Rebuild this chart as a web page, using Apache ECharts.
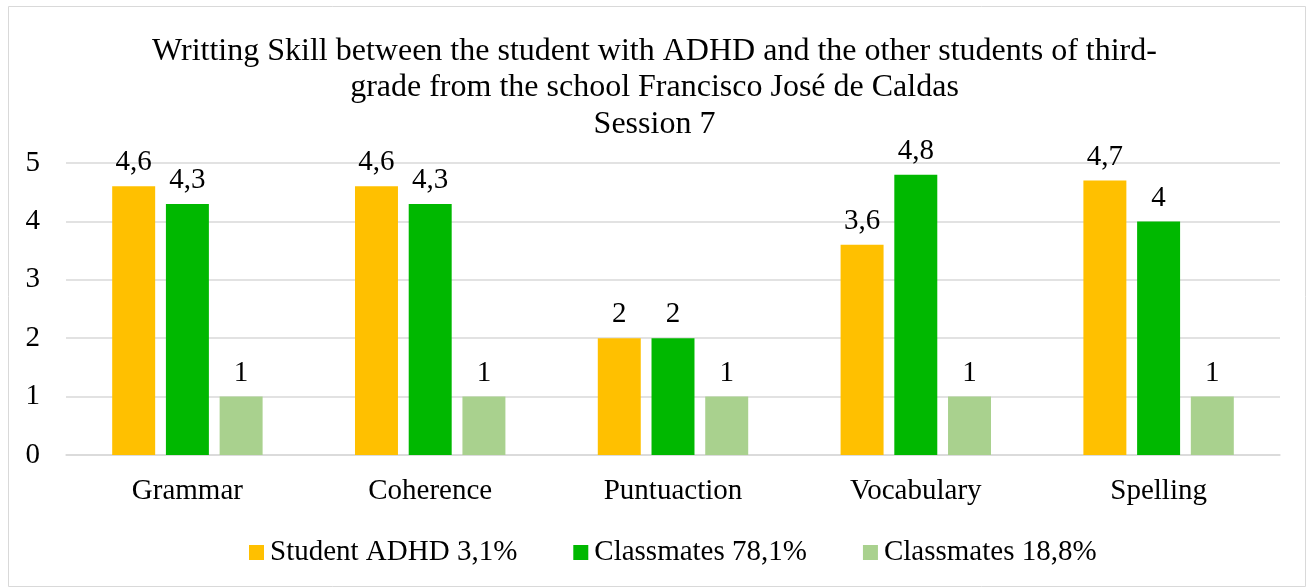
<!DOCTYPE html>
<html>
<head>
<meta charset="utf-8">
<script src="https://cdn.jsdelivr.net/npm/echarts@6/dist/echarts.min.js"></script>
<style>
  html, body { margin: 0; padding: 0; background: #fff; }
  #chart { width: 1309px; height: 588px; }
</style>
</head>
<body>
<div id="chart"></div>
<script>
// datos
var categories = ['Grammar', 'Coherence', 'Puntuaction', 'Vocabulary', 'Spelling'];
var seriesNames = ['Student ADHD 3,1%', 'Classmates 78,1%', 'Classmates 18,8%'];
var studentADHD = [4.6, 4.6, 2, 3.6, 4.7];
var classmates781 = [4.3, 4.3, 2, 4.8, 4];
var classmates188 = [1, 1, 1, 1, 1];
var colors = ['#FFC000', '#00B800', '#A9D18E'];

var font = '"Liberation Serif", "Times New Roman", serif';

function label() {
  return {
    show: true,
    position: 'top',
    distance: 9,
    fontFamily: font,
    fontSize: 29,
    color: '#000',
    formatter: function (p) { return String(p.value).replace('.', ','); }
  };
}

var myChart = echarts.init(document.getElementById('chart'));
var option = {
  backgroundColor: '#fff',
  animation: false,
  title: {
    text: 'Writting Skill between the student with ADHD and the other students of third-\ngrade from the school Francisco José de Caldas\nSession 7',
    left: 'center',
    top: 28,
    textStyle: { fontFamily: font, fontSize: 32, fontWeight: 'normal', color: '#000', lineHeight: 36.5 }
  },
  legend: {
    bottom: 16,
    left: 244,
    itemWidth: 15,
    itemHeight: 15,
    itemGap: 56,
    icon: 'rect',
    textStyle: { fontFamily: font, fontSize: 29, color: '#000', padding: [0, 0, 0, 1] },
    data: seriesNames
  },
  grid: { left: 66, right: 29, top: 163, bottom: 133, containLabel: false },
  xAxis: {
    type: 'category',
    data: categories,
    axisLine: { show: true, lineStyle: { color: '#d9d9d9', width: 1.5 } },
    axisTick: { show: false },
    axisLabel: { fontFamily: font, fontSize: 29, color: '#000', margin: 22 }
  },
  yAxis: {
    type: 'value',
    min: 0,
    max: 5,
    interval: 1,
    axisLine: { show: false },
    axisTick: { show: false },
    splitLine: { lineStyle: { color: '#d9d9d9', width: 1.5 } },
    axisLabel: { fontFamily: font, fontSize: 29, color: '#000', margin: 26 }
  },
  series: [
    { name: seriesNames[0], type: 'bar', data: studentADHD, itemStyle: { color: colors[0] }, barWidth: '17.7%', barGap: '25%', label: label() },
    { name: seriesNames[1], type: 'bar', data: classmates781, itemStyle: { color: colors[1] }, barWidth: '17.7%', barGap: '25%', label: label() },
    { name: seriesNames[2], type: 'bar', data: classmates188, itemStyle: { color: colors[2] }, barWidth: '17.7%', barGap: '25%', label: label() }
  ],
  graphic: [{
    type: 'rect',
    shape: { x: 8.5, y: 6.5, width: 1297, height: 580 },
    style: { fill: 'none', stroke: '#d9d9d9', lineWidth: 1 },
    silent: true
  }]
};
myChart.setOption(option);
</script>
</body>
</html>
